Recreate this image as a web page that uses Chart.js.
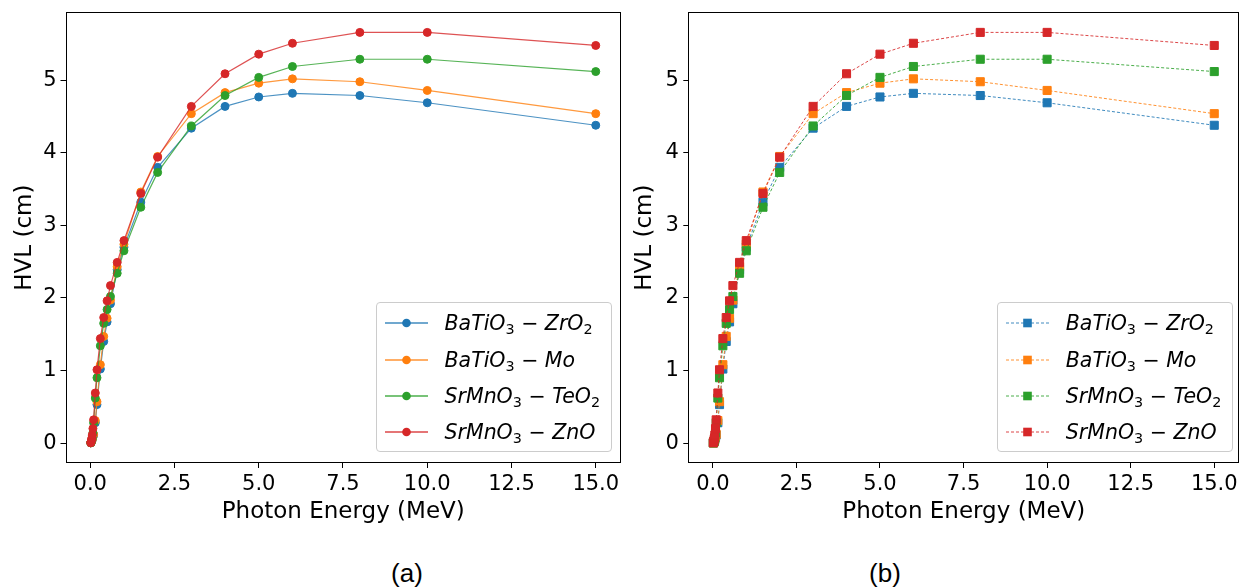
<!DOCTYPE html>
<html><head><meta charset="utf-8">
<script src="https://cdn.jsdelivr.net/npm/chart.js@4.4.0/dist/chart.umd.min.js"></script>
<style>
body{margin:0;background:#fff;width:1246px;height:587px;overflow:hidden;position:relative;font-family:"DejaVu Sans",sans-serif;}
canvas{position:absolute;}
.legend{position:absolute;border:1px solid #cccccc;border-radius:4px;background:rgba(255,255,255,0.8);box-sizing:border-box;}
.legend .row{position:absolute;left:0;width:100%;height:0;}
.legend svg{position:absolute;overflow:visible;}
.legend .lbl{position:absolute;font-family:"DejaVu Sans",sans-serif;font-style:italic;font-size:20.5px;white-space:nowrap;line-height:22px;top:-11px;color:#000;}
.legend .lbl sub{font-style:normal;font-size:70%;vertical-align:-0.3em;line-height:0;}
.legend .lbl .op{font-style:normal;}
.caption{position:absolute;font-family:"Liberation Sans",Arial,sans-serif;font-size:26px;transform:translate(-50%,-50%);color:#000;white-space:nowrap;}
</style></head><body>
<canvas id="ca" width="626" height="540" style="left:0;top:0"></canvas>
<canvas id="cb" width="620" height="540" style="left:626px;top:0"></canvas>
<div class="caption" style="left:407px;top:573px">(a)</div>
<div class="caption" style="left:885px;top:573px">(b)</div>
<script>
// ---- data ----
const energy = [0.015,0.02,0.03,0.04,0.05,0.06,0.08,0.1,0.15,0.2,0.3,0.4,0.5,0.6,0.8,1,1.5,2,3,4,5,6,8,10,15];
const hvlBaTiO3ZrO2 = [0.002,0.005,0.013,0.02,0.032,0.05,0.08,0.11,0.28,0.53,1.02,1.40,1.67,1.92,2.39,2.70,3.32,3.80,4.34,4.64,4.77,4.82,4.79,4.69,4.38];
const hvlBaTiO3Mo   = [0.002,0.005,0.014,0.022,0.035,0.055,0.09,0.12,0.31,0.57,1.08,1.47,1.72,1.97,2.43,2.74,3.46,3.95,4.54,4.83,4.96,5.02,4.98,4.86,4.54];
const hvlSrMnO3TeO2 = [0.003,0.006,0.016,0.028,0.045,0.07,0.14,0.28,0.62,0.90,1.34,1.65,1.84,2.02,2.34,2.65,3.25,3.73,4.37,4.79,5.04,5.19,5.29,5.29,5.12];
const hvlSrMnO3ZnO  = [0.004,0.008,0.024,0.05,0.07,0.11,0.20,0.32,0.69,1.01,1.44,1.73,1.96,2.17,2.49,2.79,3.44,3.94,4.64,5.09,5.36,5.51,5.66,5.66,5.48];
const seriesNames = ["BaTiO3 − ZrO2","BaTiO3 − Mo","SrMnO3 − TeO2","SrMnO3 − ZnO"];
const seriesValues = [hvlBaTiO3ZrO2, hvlBaTiO3Mo, hvlSrMnO3TeO2, hvlSrMnO3ZnO];
const seriesColors = ["#1f77b4","#ff7f0e","#2ca02c","#d62728"];
const xTickValues = [0,2.5,5,7.5,10,12.5,15];
const xTickLabels = ["0.0","2.5","5.0","7.5","10.0","12.5","15.0"];
const yTickValues = [0,1,2,3,4,5];
const yTickLabels = ["0","1","2","3","4","5"];
const xTitle = "Photon Energy (MeV)";
const yTitle = "HVL (cm)";

function rgba(hex, a){
  const n=parseInt(hex.slice(1),16);
  return `rgba(${(n>>16)&255},${(n>>8)&255},${n&255},${a})`;
}

const spines = {
  id:'spines',
  afterDraw(chart){
    const {ctx, chartArea:a} = chart;
    ctx.save();
    ctx.strokeStyle='#000'; ctx.lineWidth=1;
    const l=Math.round(a.left)+0.5, t=Math.round(a.top)+0.5, r=Math.round(a.right)-0.5, b=Math.round(a.bottom)-0.5;
    ctx.strokeRect(l,t,r-l,b-t);
    ctx.restore();
  }
};

function buildDatasets(square){
  return seriesValues.map((vals,k)=>({
    label: seriesNames[k],
    data: energy.map((e,i)=>({x:e,y:vals[i]})),
    borderColor: rgba(seriesColors[k], square?0.85:0.8),
    backgroundColor: seriesColors[k],
    pointBackgroundColor: seriesColors[k],
    pointBorderColor: seriesColors[k],
    borderWidth: square?1:1.2,
    borderDash: square?[3,2]:[],
    pointStyle: square?'rect':'circle',
    pointRadius: square?5.7:4,
    pointBorderWidth: 1,
    tension: 0,
    order: 4-k,
    clip: false
  }));
}

function buildScales(yWidth, yTitlePad, yTickPad){
  const tickFont = {family:'DejaVu Sans', size:21};
  const titleFont = {family:'DejaVu Sans', size:23};
  const grid = {drawOnChartArea:false, drawTicks:true, tickLength:5, color:'#000', lineWidth:1};
  return {
    x:{
      type:'linear', min:-0.734, max:15.749,
      afterBuildTicks:s=>{s.ticks=xTickValues.map(v=>({value:v}));},
      ticks:{callback:(v,i)=>xTickLabels[i], font:tickFont, color:'#000', padding:4, maxRotation:0, autoSkip:false},
      grid:grid, border:{display:false},
      title:{display:true, text:xTitle, font:titleFont, color:'#000', padding:{top:0,bottom:14.5}},
      afterFit:s=>{s.height=77; s.paddingLeft=0; s.paddingRight=0;}
    },
    y:{
      type:'linear', min:-0.275, max:5.937,
      afterBuildTicks:s=>{s.ticks=yTickValues.map(v=>({value:v}));},
      ticks:{callback:(v,i)=>yTickLabels[i], font:tickFont, color:'#000', padding:yTickPad, autoSkip:false},
      grid:grid, border:{display:false},
      title:{display:true, text:yTitle, font:titleFont, color:'#000', padding:{top:yTitlePad,bottom:0}},
      afterFit:s=>{s.width=yWidth; s.paddingTop=0; s.paddingBottom=0;}
    }
  };
}

function makeChart(id, square, pad, yWidth, yTitlePad, yTickPad){
  return new Chart(document.getElementById(id), {
    type:'line',
    data:{datasets:buildDatasets(square)},
    options:{
      responsive:false, animation:false, devicePixelRatio:1,
      layout:{padding:pad},
      plugins:{legend:{display:false}, tooltip:{enabled:false}, title:{display:false}},
      scales:buildScales(yWidth, yTitlePad, yTickPad)
    },
    plugins:[spines]
  });
}

makeChart('ca', false, {left:0, top:12.3, right:3.7, bottom:0}, 65.5, 11, 4);
makeChart('cb', true, {left:0, top:12.3, right:2, bottom:0}, 62.3, 5, 4.5);

function labelHTML(name){
  return name.replace(/([A-Za-z])(\d)/g,'$1<sub>$2</sub>').replace('−','<span class="op">−</span>');
}

function makeLegend(left, top, width, height, square){
  const box=document.createElement('div');
  box.className='legend';
  Object.assign(box.style,{left:left+'px',top:top+'px',width:width+'px',height:height+'px'});
  seriesNames.forEach((name,k)=>{
    const row=document.createElement('div');
    row.className='row';
    row.style.top=(20.5+k*36.4)+'px';
    const c=seriesColors[k];
    const marker = square
      ? `<rect x="17.2" y="-4.3" width="8.6" height="8.6" fill="${c}"/>`
      : `<circle cx="21.5" cy="0" r="4.3" fill="${c}"/>`;
    const dash = square ? 'stroke-dasharray="3,2"' : '';
    row.innerHTML = `<svg style="left:7.5px;top:0" width="43" height="1"><line x1="0" y1="0" x2="43" y2="0" stroke="${rgba(c,0.85)}" stroke-width="${square?1:1.3}" ${dash}/>${marker}</svg>`+
      `<span class="lbl" style="left:67.5px">${labelHTML(name)}</span>`;
    box.appendChild(row);
  });
  document.body.appendChild(box);
}
makeLegend(376, 301.7, 236, 150.6, false);
makeLegend(997.3, 301.7, 235.4, 150.6, true);
</script>
</body></html>
